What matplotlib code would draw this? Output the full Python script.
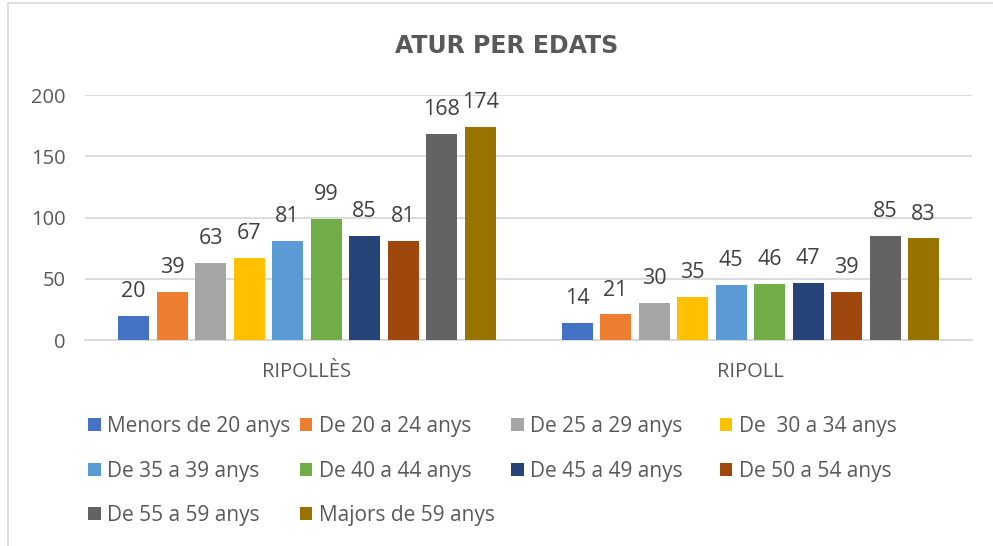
import numpy as np
import matplotlib.pyplot as plt
from matplotlib.patches import Rectangle

plt.rcParams["font.family"] = ["Open Sans", "DejaVu Sans"]

categories = ["RIPOLLÈS", "RIPOLL"]
age_groups = [
    "Menors de 20 anys", "De 20 a 24 anys", "De 25 a 29 anys", "De  30 a 34 anys",
    "De 35 a 39 anys", "De 40 a 44 anys", "De 45 a 49 anys", "De 50 a 54 anys",
    "De 55 a 59 anys", "Majors de 59 anys",
]
ripolles = [20, 39, 63, 67, 81, 99, 85, 81, 168, 174]
ripoll = [14, 21, 30, 35, 45, 46, 47, 39, 85, 83]
yticks = [0, 50, 100, 150, 200]

colors = ["#4472C4", "#ED7D31", "#A5A5A5", "#FFC000", "#5B9BD5",
          "#70AD47", "#264478", "#9E480E", "#636363", "#997300"]

fig = plt.figure(figsize=(9.93, 5.46), dpi=100)
fig.patches.append(Rectangle((0.008, -0.02), 1.0, 1.014, transform=fig.transFigure,
                             fill=False, edgecolor="#d9d9d9", linewidth=1.2))
ax = fig.add_axes([0.0856, 0.377, 0.8933, 0.449])

x = np.arange(len(categories))
step = 0.0868
width = 0.0699
handles = []
for i, name in enumerate(age_groups):
    vals = [ripolles[i], ripoll[i]]
    pos = x + (i - 4.5) * step
    bars = ax.bar(pos, vals, width, color=colors[i], label=name, zorder=3)
    ax.bar_label(bars, padding=10, fontsize=15.5, color="#404040")
    handles.append(bars)

ax.set_xlim(-0.5, 1.5)
ax.set_ylim(0, 200)
ax.set_yticks(yticks)
ax.set_xticks(x, categories)
ax.tick_params(axis="both", length=0, colors="#595959")
ax.tick_params(axis="x", labelsize=14.5, pad=16)
ax.tick_params(axis="y", labelsize=14.5, pad=14)
ax.grid(axis="y", color="#d9d9d9", linewidth=1.3, zorder=0)
for s in ["top", "right", "left"]:
    ax.spines[s].set_visible(False)
ax.spines["bottom"].set_color("#d9d9d9")
ax.spines["bottom"].set_linewidth(1.3)

fig.text(0.51, 0.916, "ATUR PER EDATS", ha="center", va="center", fontsize=17,
         fontweight="bold", color="#595959", family=["Liberation Sans Narrow", "DejaVu Sans"])

# legend laid out in rows like the original: 4 columns, row-major order
col_x = [0.089, 0.302, 0.515, 0.725]
for c in range(4):
    idx = list(range(c, len(age_groups), 4))
    leg = fig.legend([handles[k] for k in idx], [age_groups[k] for k in idx],
                     loc="upper left", bbox_to_anchor=(col_x[c], 0.238),
                     frameon=False, fontsize=15, handlelength=0.6, handleheight=0.6,
                     handletextpad=0.3, labelspacing=1.13, borderpad=0, borderaxespad=0)
    for t in leg.get_texts():
        t.set_color("#595959")

plt.savefig("out.png", dpi=100)
